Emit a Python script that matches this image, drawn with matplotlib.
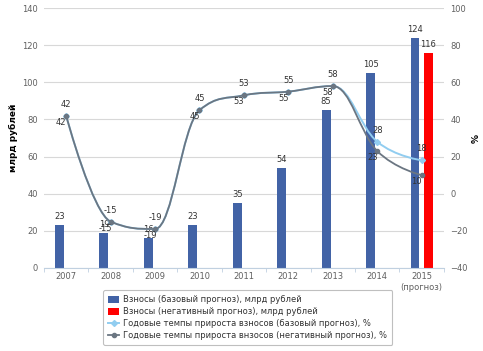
import numpy as np
import matplotlib
matplotlib.use('Agg')
from matplotlib import pyplot as plt
from matplotlib.path import Path
from matplotlib.patches import PathPatch, Patch
from matplotlib.lines import Line2D

years = ['2007', '2008', '2009', '2010', '2011', '2012', '2013', '2014', '2015\n(прогноз)']
contrib_base = [23, 19, 16, 23, 35, 54, 85, 105, 124]
contrib_neg = [None, None, None, None, None, None, None, None, 116]
growth_base = [42, -15, -19, 45, 53, 55, 58, 28, 18]
growth_neg = [42, -15, -19, 45, 53, 55, 58, 23, 10]

legend_labels = ['Взносы (базовый прогноз), млрд рублей',
                 'Взносы (негативный прогноз), млрд рублей',
                 'Годовые темпы прироста взносов (базовый прогноз), %',
                 'Годовые темпы прироста внзосов (негативный прогноз), %']

BLUE = '#4263a6'
RED = '#ff0000'
LIGHT = '#91cdf0'
GRAY = '#6b7682'
TXT = '#606060'

plt.rcParams['font.family'] = ['DejaVu Sans']


# Highcharts-like spline path (smoothing 1.5)
def spline_path(xs, ys):
    s = 1.5
    d = s + 1
    n = len(xs)
    left = [None] * n
    right = [None] * n
    for i in range(n):
        x, y = xs[i], ys[i]
        if 0 < i < n - 1:
            lx, ly = xs[i - 1], ys[i - 1]
            nx, ny = xs[i + 1], ys[i + 1]
            lcx = (s * x + lx) / d
            lcy = (s * y + ly) / d
            rcx = (s * x + nx) / d
            rcy = (s * y + ny) / d
            if rcx != lcx:
                corr = (rcy - lcy) * (rcx - x) / (rcx - lcx) + y - rcy
                lcy += corr
                rcy += corr
            if lcy > max(ly, y):
                lcy = max(ly, y)
                rcy = 2 * y - lcy
            elif lcy < min(ly, y):
                lcy = min(ly, y)
                rcy = 2 * y - lcy
            if rcy > max(ny, y):
                rcy = max(ny, y)
                lcy = 2 * y - rcy
            elif rcy < min(ny, y):
                rcy = min(ny, y)
                lcy = 2 * y - rcy
            left[i] = (lcx, lcy)
            right[i] = (rcx, rcy)
        else:
            left[i] = (x, y)
            right[i] = (x, y)
    verts = [(xs[0], ys[0])]
    codes = [Path.MOVETO]
    for i in range(1, n):
        verts += [right[i - 1], left[i], (xs[i], ys[i])]
        codes += [Path.CURVE4] * 3
    return Path(verts, codes)


fig = plt.figure(figsize=(4.83, 3.51), dpi=100)
ax = fig.add_axes([0.091, 0.2365, 0.828, 0.7405])
ax2 = ax.twinx()

x = np.arange(len(years))
w = 0.2
off = 0.15

ax.bar(x - off, contrib_base, width=w, color=BLUE, zorder=2)
neg_vals = [v if v is not None else 0 for v in contrib_neg]
ax.bar(x + off, neg_vals, width=w, color=RED, zorder=2)

for i, v in enumerate(contrib_base):
    ax.annotate(str(v), (x[i] - off, v), xytext=(0, 4), textcoords='offset pixels',
                ha='center', va='bottom', fontsize=6, color='#333333')
for i, v in enumerate(contrib_neg):
    if v is not None:
        ax.annotate(str(v), (x[i] + off, v), xytext=(0, 4), textcoords='offset pixels',
                    ha='center', va='bottom', fontsize=6, color='#333333')

ax.set_ylim(0, 140)
ax.set_yticks(range(0, 141, 20))
ax.set_xlim(-0.5, len(years) - 0.5)
ax.set_xticks(x)
ax.set_xticklabels(years)
ax.set_xticks(np.arange(-0.5, len(years), 1), minor=True)
ax.tick_params(axis='x', which='major', length=0, labelsize=6, labelcolor=TXT, pad=3)
ax.tick_params(axis='x', which='minor', length=3, color='#c0d0e0')
ax.tick_params(axis='y', length=0, labelsize=6, labelcolor=TXT, pad=4.5)
ax.grid(axis='y', color='#d8d8d8', linewidth=0.8, zorder=0)
ax.set_axisbelow(True)
for sp in ['top', 'right', 'left']:
    ax.spines[sp].set_visible(False)
ax.spines['bottom'].set_color('#c0d0e0')
ax.set_ylabel('млрд рублей', fontsize=6.5, fontweight='bold', labelpad=3)

ax2.set_ylim(-40, 100)
ax2.set_yticks(range(-40, 101, 20))
ax2.tick_params(axis='y', length=0, labelsize=6, labelcolor=TXT, pad=4.5)
for sp in ax2.spines.values():
    sp.set_visible(False)
ax2.set_ylabel('%', fontsize=6.5, fontweight='bold', labelpad=3)

ax2.add_patch(PathPatch(spline_path(x, growth_base), facecolor='none',
                        edgecolor=LIGHT, linewidth=1.4, zorder=3))
ax2.plot(x, growth_base, linestyle='none', marker='D', markersize=3,
         color=LIGHT, zorder=3)
ax2.add_patch(PathPatch(spline_path(x, growth_neg), facecolor='none',
                        edgecolor=GRAY, linewidth=1.3, zorder=4))
ax2.plot(x, growth_neg, linestyle='none', marker='o', markersize=3,
         color=GRAY, zorder=4)

for i in range(len(years)):
    ax2.annotate(str(growth_base[i]), (x[i], growth_base[i]), xytext=(0, 7),
                 textcoords='offset pixels', ha='center', va='bottom',
                 fontsize=6, color='#333333', zorder=5)
    ax2.annotate(str(growth_neg[i]), (x[i], growth_neg[i]), xytext=(-5, -2),
                 textcoords='offset pixels', ha='center', va='top',
                 fontsize=6, color='#333333', zorder=5)

handles = [Patch(facecolor=BLUE), Patch(facecolor=RED),
           Line2D([], [], color=LIGHT, marker='D', markersize=3, linewidth=1.4),
           Line2D([], [], color=GRAY, marker='o', markersize=3, linewidth=1.3)]
leg = fig.legend(handles, legend_labels, loc='center', bbox_to_anchor=(0.513, 0.095),
                 fontsize=6, frameon=True, fancybox=True, handlelength=1.3,
                 handleheight=0.9, labelspacing=0.35, borderpad=0.6, handletextpad=0.5)
leg.get_frame().set_edgecolor('#b0b0b0')
leg.get_frame().set_linewidth(0.8)
for t in leg.get_texts():
    t.set_color('#333333')

fig.savefig('out.png', dpi=100)
